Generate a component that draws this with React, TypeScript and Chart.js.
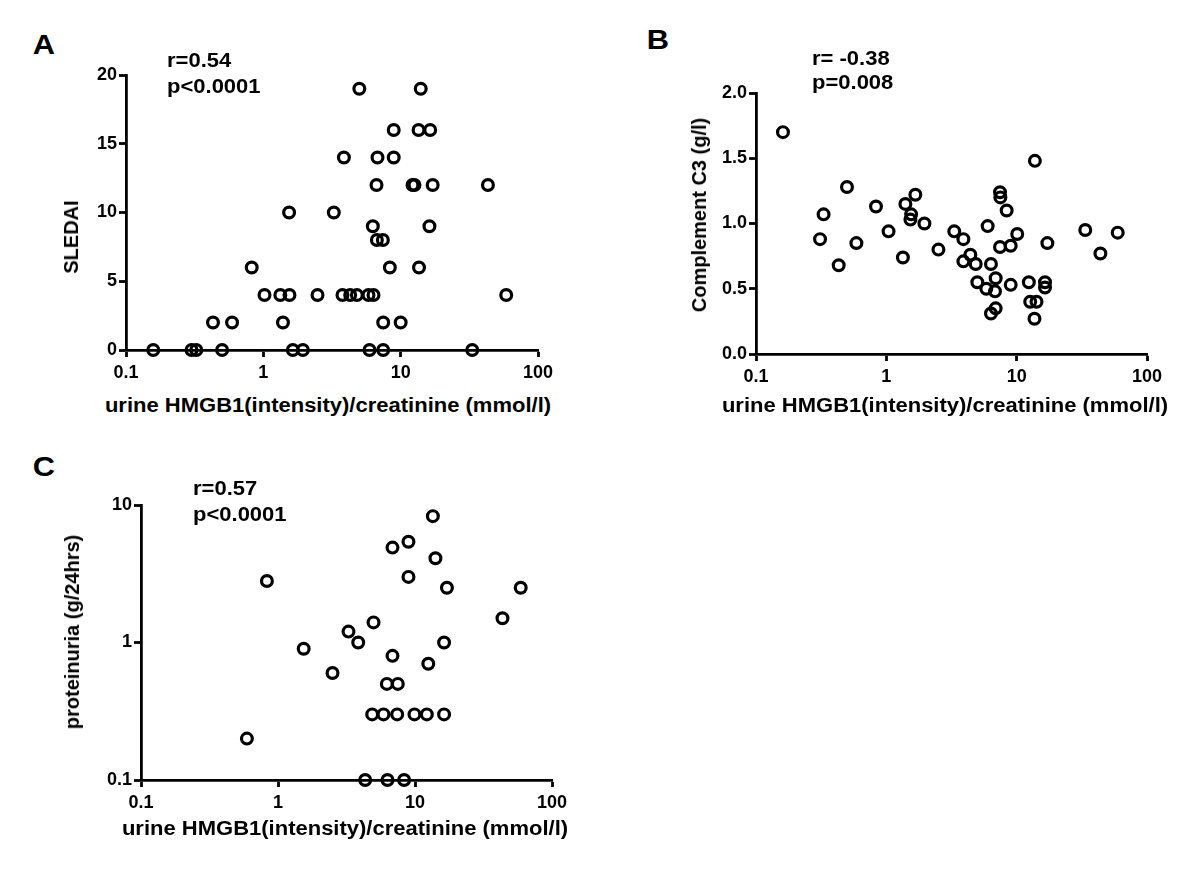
import React, { useEffect, useRef } from "react";
import { Chart, registerables } from "chart.js";

Chart.register(...registerables);

// ---------- data ----------
const X_TICKS = [0.1, 1, 10, 100];
const X_TITLE = "urine HMGB1(intensity)/creatinine (mmol/l)";

// Panel A: SLEDAI
const A_X = [5.0, 14.0, 8.9, 13.5, 16.4, 3.86, 6.78, 8.9, 6.67, 12.2, 12.6, 17.1, 43.2, 1.54, 3.26, 6.27, 16.2, 6.71, 7.42, 0.823, 8.34, 13.6, 1.02, 1.33, 1.55, 2.48, 3.77, 4.29, 4.8, 5.83, 6.34, 58.7, 0.43, 0.592, 1.39, 7.46, 10.0, 0.158, 0.3, 0.325, 0.501, 1.64, 1.94, 5.93, 7.46, 33.2];
const A_Y = [19, 19, 16, 16, 16, 14, 14, 14, 12, 12, 12, 12, 12, 10, 10, 9, 9, 8, 8, 6, 6, 6, 4, 4, 4, 4, 4, 4, 4, 4, 4, 4, 2, 2, 2, 2, 2, 0, 0, 0, 0, 0, 0, 0, 0, 0];
const A_Y_TICKS = [0, 5, 10, 15, 20];

// Panel B: Complement C3
const B_X = [0.161, 13.8, 0.499, 0.33, 0.31, 0.589, 0.431, 0.833, 1.04, 1.34, 1.4, 1.67, 1.55, 1.53, 1.96, 2.51, 3.32, 3.9, 4.41, 3.9, 4.85, 4.99, 5.85, 5.99, 6.35, 6.35, 6.9, 6.82, 6.9, 7.45, 7.5, 7.45, 8.38, 9.0, 9.0, 10.1, 12.4, 12.7, 14.2, 13.7, 16.5, 16.5, 17.2, 33.6, 43.9, 59.6];
const B_Y = [1.70, 1.48, 1.28, 1.07, 0.88, 0.85, 0.68, 1.13, 0.94, 0.74, 1.15, 1.22, 1.07, 1.03, 1.00, 0.80, 0.94, 0.88, 0.76, 0.71, 0.69, 0.55, 0.50, 0.98, 0.69, 0.31, 0.35, 0.48, 0.58, 1.24, 1.20, 0.82, 1.10, 0.83, 0.53, 0.92, 0.55, 0.40, 0.40, 0.27, 0.55, 0.51, 0.85, 0.95, 0.77, 0.93];
const B_Y_TICKS = [0, 0.5, 1.0, 1.5, 2.0];

// Panel C: proteinuria
const C_X = [13.5, 8.96, 6.85, 14.1, 8.96, 0.83, 17.1, 59.1, 43.5, 4.98, 3.27, 3.85, 16.3, 1.54, 6.85, 12.5, 2.5, 6.23, 7.49, 0.593, 4.87, 5.89, 7.41, 9.91, 12.2, 16.3, 4.33, 6.3, 8.33];
const C_Y = [8.3, 5.4, 4.9, 4.1, 3.0, 2.8, 2.5, 2.5, 1.5, 1.4, 1.2, 1.0, 1.0, 0.9, 0.8, 0.7, 0.6, 0.5, 0.5, 0.2, 0.3, 0.3, 0.3, 0.3, 0.3, 0.3, 0.1, 0.1, 0.1];
const C_Y_TICKS = [0.1, 1, 10];

// ---------- styling ----------
const FONT = "'Liberation Sans', Arial, Helvetica, sans-serif";
const TICK_FONT = { family: FONT, weight: "bold" as const, size: 18 };
const LINE_W = 2.8;
const STRETCH = 1.1;

type Box = { left: number; top: number; width: number; height: number };
type Area = { l: number; t: number; r: number; b: number };

function axisStyle() {
  return {
    grid: {
      display: true,
      drawOnChartArea: false,
      drawTicks: true,
      tickLength: 7,
      tickWidth: LINE_W,
      tickColor: "#000",
      color: "#000",
    },
    border: { display: true, color: "#000", width: LINE_W },
  };
}

function Panel(props: {
  box: Box;
  area: Area;
  xs: number[];
  ys: number[];
  yType: "linear" | "logarithmic";
  yTicks: number[];
  yFmt: (v: number) => string;
}) {
  const ref = useRef<HTMLCanvasElement>(null);
  useEffect(() => {
    const { box, area, xs, ys, yType, yTicks, yFmt } = props;
    const yW = area.l - box.left;
    const xH = box.top + box.height - area.b;
    const chart = new Chart(ref.current as HTMLCanvasElement, {
      type: "scatter",
      data: {
        datasets: [
          {
            data: xs.map((x, i) => ({ x, y: ys[i] })),
            pointStyle: "circle",
            pointRadius: 5.4,
            pointHoverRadius: 5.4,
            pointBorderWidth: 3.2,
            borderColor: "#000",
            backgroundColor: "rgba(0,0,0,0)",
            showLine: false,
            clip: false as any,
          } as any,
        ],
      },
      options: {
        responsive: false,
        animation: false,
        events: [],
        layout: {
          autoPadding: false,
          padding: { top: area.t - box.top, right: box.left + box.width - area.r, left: 0, bottom: 0 },
        } as any,
        plugins: { legend: { display: false }, tooltip: { enabled: false } },
        scales: {
          x: {
            type: "logarithmic",
            min: X_TICKS[0],
            max: X_TICKS[X_TICKS.length - 1],
            afterBuildTicks: (s: any) => {
              s.ticks = X_TICKS.map((v) => ({ value: v }));
            },
            afterFit: (s: any) => {
              s.height = xH;
            },
            ticks: {
              font: TICK_FONT,
              color: "#000",
              padding: 5,
              maxRotation: 0,
              autoSkip: false,
              callback: (v: any) => String(v),
            },
            ...axisStyle(),
          },
          y: {
            type: yType,
            min: yTicks[0],
            max: yTicks[yTicks.length - 1],
            afterBuildTicks: (s: any) => {
              s.ticks = yTicks.map((v) => ({ value: v }));
            },
            afterFit: (s: any) => {
              s.width = yW;
            },
            ticks: {
              font: TICK_FONT,
              color: "#000",
              padding: 2,
              autoSkip: false,
              callback: (v: any) => yFmt(Number(v)),
            },
            ...axisStyle(),
          },
        } as any,
      },
    });
    return () => chart.destroy();
  }, []);
  const { box } = props;
  return (
    <canvas
      ref={ref}
      width={box.width}
      height={box.height}
      style={{ position: "absolute", left: box.left, top: box.top, width: box.width, height: box.height }}
    />
  );
}

function Txt(props: { x: number; y: number; size: number; text: string; anchor?: "left" | "center"; rotate?: boolean }) {
  const { x, y, size, text, anchor = "left", rotate } = props;
  const tf = rotate
    ? "translate(-50%, -50%) rotate(-90deg)"
    : anchor === "center"
    ? `translate(-50%, -50%) scaleX(${STRETCH})`
    : `translate(0, -50%) scaleX(${STRETCH})`;
  return (
    <div
      style={{
        position: "absolute",
        left: x,
        top: y,
        transform: tf,
        transformOrigin: anchor === "left" && !rotate ? "left center" : "center center",
        fontFamily: FONT,
        fontWeight: "bold",
        fontSize: size,
        lineHeight: 1,
        whiteSpace: "nowrap",
        color: "#000",
      }}
    >
      {text}
    </div>
  );
}

export default function App() {
  return (
    <div style={{ position: "absolute", left: 0, top: 0, width: 1200, height: 880, background: "#fff", overflow: "hidden" }}>
      {/* Panel A */}
      <Panel
        box={{ left: 60, top: 50, width: 510, height: 340 }}
        area={{ l: 126, t: 75, r: 538, b: 350 }}
        xs={A_X}
        ys={A_Y}
        yType="linear"
        yTicks={A_Y_TICKS}
        yFmt={(v) => String(v)}
      />
      <Txt x={43.5} y={44.5} size={28} text="A" anchor="center" />
      <Txt x={167} y={60} size={20} text="r=0.54" />
      <Txt x={167} y={86} size={20} text="p<0.0001" />
      <Txt x={71} y={237} size={20} text="SLEDAI" rotate />
      <Txt x={328} y={405} size={20} text={X_TITLE} anchor="center" />

      {/* Panel B */}
      <Panel
        box={{ left: 690, top: 60, width: 500, height: 340 }}
        area={{ l: 756, t: 93, r: 1147, b: 354 }}
        xs={B_X}
        ys={B_Y}
        yType="linear"
        yTicks={B_Y_TICKS}
        yFmt={(v) => v.toFixed(1)}
      />
      <Txt x={658} y={40} size={28} text="B" anchor="center" />
      <Txt x={812} y={58} size={20} text="r= -0.38" />
      <Txt x={812} y={82} size={20} text="p=0.008" />
      <Txt x={699} y={215} size={20} text="Complement C3 (g/l)" rotate />
      <Txt x={945} y={405} size={20} text={X_TITLE} anchor="center" />

      {/* Panel C */}
      <Panel
        box={{ left: 75, top: 480, width: 510, height: 340 }}
        area={{ l: 141, t: 505, r: 552, b: 780 }}
        xs={C_X}
        ys={C_Y}
        yType="logarithmic"
        yTicks={C_Y_TICKS}
        yFmt={(v) => String(v)}
      />
      <Txt x={44} y={467} size={28} text="C" anchor="center" />
      <Txt x={193} y={488} size={20} text="r=0.57" />
      <Txt x={193} y={514} size={20} text="p<0.0001" />
      <Txt x={72} y={632} size={20} text="proteinuria (g/24hrs)" rotate />
      <Txt x={345} y={828} size={20} text={X_TITLE} anchor="center" />
    </div>
  );
}
